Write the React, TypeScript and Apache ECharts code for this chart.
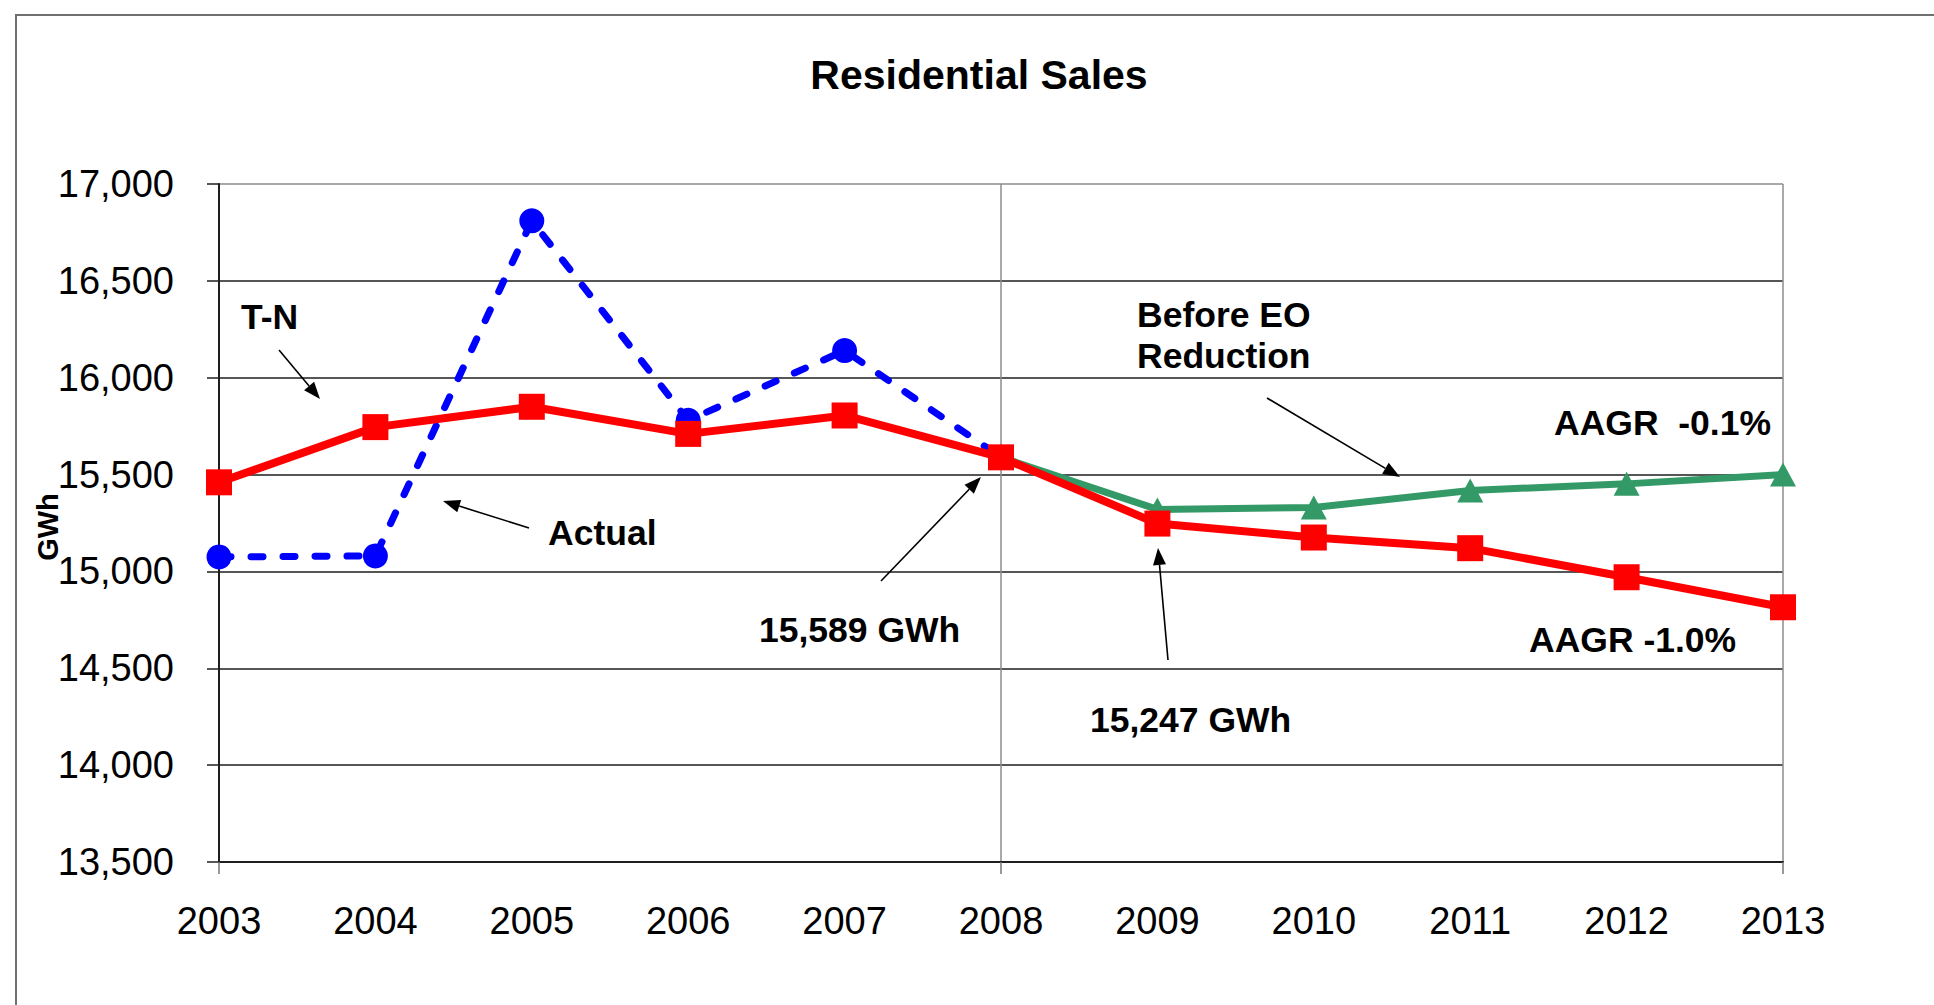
import React, { useEffect, useRef } from "react";
import * as echarts from "echarts";

// Residential electricity sales, GWh
const years = ["2003", "2004", "2005", "2006", "2007", "2008", "2009", "2010", "2011", "2012", "2013"];
const actual = [15075, 15080, 16810, 15780, 16140, 15589, null, null, null, null, null];
const tnForecast = [15460, 15745, 15850, 15710, 15805, 15589, 15247, 15175, 15120, 14970, 14815];
const beforeEO = [null, null, null, null, null, 15589, 15320, 15330, 15418, 15452, 15500];

const yTicks = { min: 13500, max: 17000, step: 500 };

const FONT = "'Liberation Sans', Arial, sans-serif";

// Callout texts (left edge x, vertical middle y)
const callouts = [
  { text: "T-N", x: 241, y: 317 },
  { text: "Actual", x: 548, y: 533 },
  { text: "15,589 GWh", x: 759, y: 630 },
  { text: "15,247 GWh", x: 1090, y: 720 },
  { text: "Before EO", x: 1137, y: 315 },
  { text: "Reduction", x: 1137, y: 356 },
  { text: "AAGR  -0.1%", x: 1554, y: 423 },
  { text: "AAGR -1.0%", x: 1529, y: 640 },
];

// Callout arrows: [fromX, fromY, tipX, tipY]
const arrows = [
  [279, 350, 320, 399],
  [529, 528, 443, 501],
  [881, 581, 981, 477],
  [1168, 660, 1158, 548],
  [1267, 398, 1400, 477],
];

function arrowElements(x1: number, y1: number, x2: number, y2: number) {
  const dx = x2 - x1;
  const dy = y2 - y1;
  const len = Math.hypot(dx, dy);
  const ux = dx / len;
  const uy = dy / len;
  const headLen = 17;
  const headHalf = 6.5;
  const bx = x2 - ux * headLen;
  const by = y2 - uy * headLen;
  return [
    {
      type: "line",
      shape: { x1, y1, x2: bx, y2: by },
      style: { stroke: "#000", lineWidth: 1.6 },
      z: 10,
    },
    {
      type: "polygon",
      shape: {
        points: [
          [x2, y2],
          [bx - uy * headHalf, by + ux * headHalf],
          [bx + uy * headHalf, by - ux * headHalf],
        ],
      },
      style: { fill: "#000" },
      z: 10,
    },
  ];
}

export default function App() {
  const ref = useRef<HTMLDivElement>(null);

  useEffect(() => {
    if (!ref.current) return;
    const chart = echarts.init(ref.current, null, { renderer: "svg" });

    const graphics: any[] = [
      {
        type: "rect",
        shape: { x: 16, y: 15, width: 2100, height: 1200 },
        style: { fill: "none", stroke: "#707070", lineWidth: 2 },
        silent: true,
        z: 0,
      },
      {
        type: "text",
        x: 48,
        y: 527,
        rotation: Math.PI / 2,
        style: {
          text: "GWh",
          font: `bold 29px ${FONT}`,
          fill: "#000",
          align: "center",
          verticalAlign: "middle",
        },
        z: 10,
      },
      ...callouts.map((c) => ({
        type: "text",
        x: c.x,
        y: c.y,
        style: {
          text: c.text,
          font: `bold 35.5px ${FONT}`,
          fill: "#000",
          align: "left",
          verticalAlign: "middle",
        },
        z: 10,
      })),
      ...arrows.flatMap((a) => arrowElements(a[0], a[1], a[2], a[3])),
    ];

    const ySplitColors: string[] = [];
    for (let v = yTicks.min; v <= yTicks.max; v += yTicks.step) {
      ySplitColors.push(v === yTicks.max ? "#8c8c8c" : "#1e1e1e");
    }

    chart.setOption({
      animation: false,
      backgroundColor: "#ffffff",
      title: {
        text: "Residential Sales",
        left: 974,
        top: 49,
        textAlign: "center",
        textStyle: { fontFamily: FONT, fontSize: 41, fontWeight: "bold", color: "#000" },
      },
      grid: { left: 219, right: 151, top: 184, bottom: 143, containLabel: false },
      xAxis: {
        type: "category",
        data: years,
        boundaryGap: false,
        axisLine: { show: true, lineStyle: { color: "#1e1e1e", width: 2 } },
        axisTick: { show: true, interval: 4, length: 12, lineStyle: { color: "#777", width: 1.5 } },
        axisLabel: { interval: 0, margin: 40, fontFamily: FONT, fontSize: 38, color: "#000" },
        splitLine: {
          show: true,
          interval: 4,
          lineStyle: { color: ["#1e1e1e", "#8c8c8c", "#8c8c8c"], width: 1.5 },
        },
      },
      yAxis: {
        type: "value",
        min: yTicks.min,
        max: yTicks.max,
        interval: yTicks.step,
        axisLine: { show: true, lineStyle: { color: "#1e1e1e", width: 2 } },
        axisTick: { show: true, length: 12, lineStyle: { color: "#1e1e1e", width: 1.5 } },
        axisLabel: {
          margin: 45,
          fontFamily: FONT,
          fontSize: 38,
          color: "#000",
          formatter: (v: number) => v.toLocaleString("en-US"),
        },
        splitLine: { show: true, lineStyle: { color: ySplitColors, width: 1.5 } },
      },
      series: [
        {
          name: "Before EO Reduction",
          type: "line",
          data: beforeEO,
          symbol: "triangle",
          symbolSize: [26, 24],
          connectNulls: false,
          lineStyle: { color: "#339966", width: 7 },
          itemStyle: { color: "#339966" },
        },
        {
          name: "Actual",
          type: "line",
          data: actual,
          symbol: "circle",
          symbolSize: 25,
          lineStyle: { color: "#0000ff", width: 7, type: [12, 20], cap: "round" },
          itemStyle: { color: "#0000ff" },
        },
        {
          name: "T-N",
          type: "line",
          data: tnForecast,
          symbol: "rect",
          symbolSize: 26,
          lineStyle: { color: "#ff0000", width: 8 },
          itemStyle: { color: "#ff0000" },
        },
      ],
      graphic: graphics,
    });

    return () => chart.dispose();
  }, []);

  return (
    <div
      ref={ref}
      style={{ position: "fixed", left: 0, top: 0, width: 1934, height: 1005, background: "#fff" }}
    />
  );
}
